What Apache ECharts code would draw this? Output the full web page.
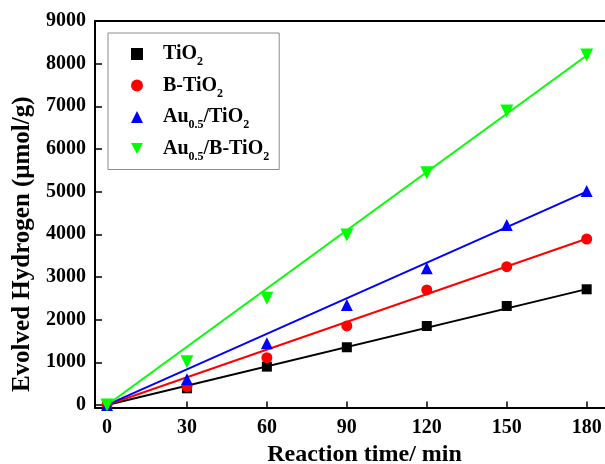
<!DOCTYPE html>
<html>
<head>
<meta charset="utf-8">
<script src="https://cdn.jsdelivr.net/npm/echarts@6/dist/echarts.min.js"></script>
<style>html,body{margin:0;padding:0;background:#fff;}#c{width:605px;height:464px;}</style>
</head>
<body>
<div id="c"></div>
<script>
const times = [0, 30, 60, 90, 120, 150, 180];
const tio2 = [0, 390, 898, 1352, 1851, 2320, 2711];
const bTio2 = [0, 430, 1109, 1851, 2695, 3242, 3890];
const auTio2 = [0, 600, 1446, 2344, 3203, 4219, 5015];
const auBTio2 = [0, 1010, 2500, 3984, 5445, 6890, 8203];
const fitX = [0, 180];
const fitTio2 = [0, 2715];
const fitBTio2 = [0, 3895];
const fitAuTio2 = [0, 5000];
const fitAuBTio2 = [0, 8190];
const xTicks = [0, 30, 60, 90, 120, 150, 180];
const yTicks = [0, 1000, 2000, 3000, 4000, 5000, 6000, 7000, 8000, 9000];
const names = ['TiO2', 'B-TiO2', 'Au0.5/TiO2', 'Au0.5/B-TiO2'];
const legendRich = {
  'TiO2': '{g|}{b|TiO}{s|2}',
  'B-TiO2': '{g|}{b|B-TiO}{s|2}',
  'Au0.5/TiO2': '{g|}{b|Au}{s|0.5}{b|/TiO}{s|2}',
  'Au0.5/B-TiO2': '{g|}{b|Au}{s|0.5}{b|/B-TiO}{s|2}'
};
const colors = ['#000000', '#ff0000', '#0000ff', '#00ff00'];
const FONT = '"Liberation Serif", "Times New Roman", serif';

function pairs(xs, ys) { return xs.map((x, i) => [x, ys[i]]); }

const chart = echarts.init(document.getElementById('c'), null, {renderer: 'canvas'});
const pointSets = [tio2, bTio2, auTio2, auBTio2];
const fitSets = [fitTio2, fitBTio2, fitAuTio2, fitAuBTio2];
const symbols = ['rect', 'circle', 'triangle', 'path://M0,0 L10,0 L5,9 Z'];
const sizes = [10, 11, 12, 13];

const series = [];
fitSets.forEach((f, i) => {
  series.push({
    name: names[i] + ' fit', type: 'line', data: pairs(fitX, f), showSymbol: false,
    lineStyle: {color: colors[i], width: 2}, itemStyle: {color: colors[i]}, z: 2, silent: true, animation: false
  });
});
pointSets.forEach((p, i) => {
  series.push({
    name: names[i], type: 'scatter', data: pairs(times, p), symbol: symbols[i], symbolSize: sizes[i],
    itemStyle: {color: colors[i], opacity: 1}, z: 3, animation: false
  });
});

chart.setOption({
  animation: false,
  backgroundColor: '#ffffff',
  textStyle: {fontFamily: FONT},
  grid: {left: 95, top: 21, width: 513, height: 386.5, containLabel: false, outerBoundsMode: 'none'},
  legend: {
    data: names, orient: 'vertical', left: 108, top: 33, itemGap: 7.5,
    itemWidth: 12, itemHeight: 12,
    padding: [11, 10, 7, 23],
    borderColor: '#8c8c8c', borderWidth: 1,
    formatter: n => legendRich[n],
    textStyle: {
      fontFamily: FONT, color: '#000',
      rich: {
        g: {width: 15},
        b: {fontFamily: FONT, fontSize: 20, fontWeight: 'bold', color: '#000', lineHeight: 28, verticalAlign: 'middle'},
        s: {fontFamily: FONT, fontSize: 12, fontWeight: 'bold', color: '#000', lineHeight: 12, verticalAlign: 'bottom'}
      }
    }
  },
  xAxis: [{
    type: 'value', min: -4.5, max: 188, position: 'bottom',
    name: 'Reaction time/ min', nameLocation: 'middle', nameGap: 33.5,
    nameTextStyle: {fontFamily: FONT, fontSize: 24, fontWeight: 'bold', color: '#000', padding: [0, 0, 0, 26]},
    axisLine: {show: true, onZero: false, lineStyle: {color: '#000', width: 2}},
    axisTick: {show: true, inside: true, length: 6, customValues: xTicks, lineStyle: {color: '#000', width: 1.5}},
    axisLabel: {customValues: xTicks, fontFamily: FONT, fontSize: 20, fontWeight: 'bold', color: '#000', margin: 10,
      formatter: v => String(v)},
    splitLine: {show: false}
  }, {
    type: 'value', min: -4.5, max: 188, position: 'top',
    axisLine: {show: true, onZero: false, lineStyle: {color: '#000', width: 2}},
    axisTick: {show: false}, axisLabel: {show: false}, splitLine: {show: false}
  }],
  yAxis: [{
    type: 'value', min: -60, max: 9000, position: 'left',
    name: 'Evolved Hydrogen (μmol/g)', nameLocation: 'middle', nameGap: 57,
    nameTextStyle: {fontFamily: FONT, fontSize: 25, fontWeight: 'bold', color: '#000', padding: [0, 60, 0, 0]},
    axisLine: {show: true, onZero: false, lineStyle: {color: '#000', width: 2}},
    axisTick: {show: true, inside: true, length: 7, customValues: yTicks, lineStyle: {color: '#000', width: 1.5}},
    axisLabel: {customValues: yTicks, fontFamily: FONT, fontSize: 20, fontWeight: 'bold', color: '#000', margin: 9,
      formatter: v => String(v)},
    splitLine: {show: false}
  }],
  series: series
});
</script>
</body>
</html>
